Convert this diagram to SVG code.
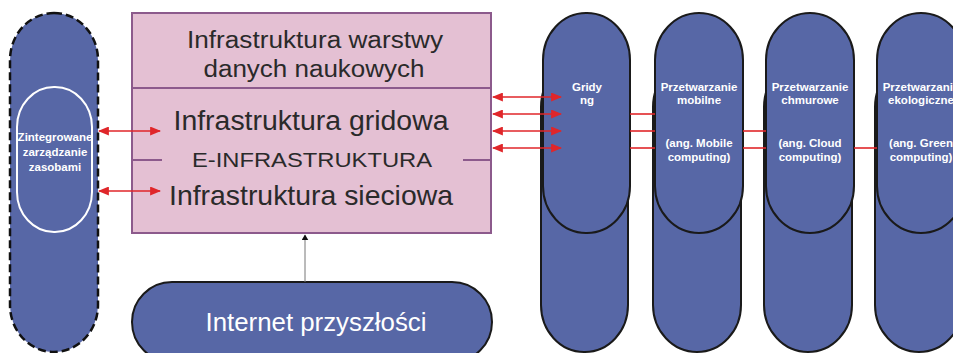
<svg xmlns="http://www.w3.org/2000/svg" width="953" height="353" viewBox="0 0 953 353">
<defs>
<style>
.pill{fill:#5767a6;stroke:#1a1a1a;stroke-width:2}
.wt{fill:#fff;font-family:"Liberation Sans",Arial,sans-serif;font-weight:bold;font-size:11.5px;text-anchor:middle}
.bt{fill:#2a2a2a;font-family:"Liberation Sans",Arial,sans-serif;text-anchor:middle}
.red{stroke:#e0262a;stroke-width:1.6;fill:none}
.redd{stroke:#e0262a;stroke-width:1.6;fill:none;marker-start:url(#ah);marker-end:url(#ah)}
</style>
<marker id="ah" viewBox="0 0 10 10" refX="9" refY="5" markerWidth="11" markerHeight="9" markerUnits="userSpaceOnUse" orient="auto-start-reverse" preserveAspectRatio="none">
<path d="M0,0 L10,5 L0,10 Z" fill="#e0262a"/>
</marker>
<marker id="bh" viewBox="0 0 10 10" refX="9" refY="5" markerWidth="6" markerHeight="7" markerUnits="userSpaceOnUse" orient="auto" preserveAspectRatio="none">
<path d="M0,0 L10,5 L0,10 Z" fill="#111"/>
</marker>
</defs>

<g id="zasoby">
<rect x="10" y="13" width="88" height="339" rx="44" ry="47" fill="#5767a6" stroke="#111" stroke-width="2.5" stroke-dasharray="8,4"/>
<rect x="17" y="87" width="75" height="145" rx="37" ry="40" fill="none" stroke="#fff" stroke-width="2"/>
<text class="wt" x="55" y="141">Zintegrowane</text>
<text class="wt" x="55" y="156">zarządzanie</text>
<text class="wt" x="55" y="171">zasobami</text>
</g>

<g id="einfra">
<rect x="132" y="13" width="359" height="220" fill="#e4c0d3" stroke="#8c5a8c" stroke-width="2"/>
<line x1="132" y1="88" x2="491" y2="88" stroke="#8c5a8c" stroke-width="2"/>
<line x1="132" y1="160" x2="162" y2="160" stroke="#8c5a8c" stroke-width="2"/>
<line x1="463" y1="160" x2="491" y2="160" stroke="#8c5a8c" stroke-width="2"/>
<text class="bt" x="315" y="48" font-size="23" textLength="256" lengthAdjust="spacingAndGlyphs">Infrastruktura warstwy</text>
<text class="bt" x="314" y="77" font-size="23" textLength="221" lengthAdjust="spacingAndGlyphs">danych naukowych</text>
<text class="bt" x="311" y="130" font-size="27" textLength="275" lengthAdjust="spacingAndGlyphs">Infrastruktura gridowa</text>
<text class="bt" x="312" y="167" font-size="20" textLength="240" lengthAdjust="spacingAndGlyphs">E-INFRASTRUKTURA</text>
<text class="bt" x="311" y="205" font-size="28" textLength="284" lengthAdjust="spacingAndGlyphs">Infrastruktura sieciowa</text>
</g>

<g id="internet">
<rect x="132" y="282" width="360" height="80" rx="40" ry="40" class="pill"/>
<text x="316" y="331" fill="#fff" font-family="Liberation Sans, Arial, sans-serif" font-size="25" text-anchor="middle" textLength="221" lengthAdjust="spacingAndGlyphs">Internet przyszłości</text>
</g>

<g id="gridy">
<rect x="541" y="60" width="87" height="292" rx="43" ry="47" class="pill"/>
<rect x="543" y="13" width="87" height="220" rx="43" ry="47" class="pill"/>
<text class="wt" x="587" y="91">Gridy</text>
<text class="wt" x="587" y="104">ng</text>
</g>

<g id="mobilne">
<rect x="653" y="60" width="88" height="292" rx="44" ry="47" class="pill"/>
<rect x="655" y="13" width="88" height="220" rx="44" ry="47" class="pill"/>
<text class="wt" x="699" y="91">Przetwarzanie</text>
<text class="wt" x="699" y="104">mobilne</text>
<text class="wt" x="699" y="147">(ang. Mobile</text>
<text class="wt" x="699" y="161">computing)</text>
</g>

<g id="chmurowe">
<rect x="764" y="60" width="88" height="292" rx="44" ry="47" class="pill"/>
<rect x="766" y="13" width="88" height="220" rx="44" ry="47" class="pill"/>
<text class="wt" x="810" y="91">Przetwarzanie</text>
<text class="wt" x="810" y="104">chmurowe</text>
<text class="wt" x="810" y="147">(ang. Cloud</text>
<text class="wt" x="810" y="161">computing)</text>
</g>

<g id="ekologiczne">
<rect x="875" y="60" width="88" height="292" rx="44" ry="47" class="pill"/>
<rect x="877" y="13" width="88" height="220" rx="44" ry="47" class="pill"/>
<text class="wt" x="921" y="91">Przetwarzanie</text>
<text class="wt" x="921" y="104">ekologiczne</text>
<text class="wt" x="921" y="147">(ang. Green</text>
<text class="wt" x="921" y="161">computing)</text>
</g>

<g id="connectors">
<line class="redd" x1="99" y1="131" x2="160" y2="131"/>
<line class="redd" x1="99" y1="191" x2="160" y2="191"/>
<line class="redd" x1="493" y1="97" x2="561" y2="97"/>
<line class="redd" x1="493" y1="114" x2="561" y2="114"/>
<line class="redd" x1="493" y1="131" x2="561" y2="131"/>
<line class="redd" x1="493" y1="148" x2="561" y2="148"/>
<line class="red" x1="630" y1="114" x2="655" y2="114"/>
<line class="red" x1="630" y1="131" x2="655" y2="131"/>
<line class="red" x1="630" y1="148" x2="655" y2="148"/>
<line class="red" x1="743" y1="131" x2="766" y2="131"/>
<line class="red" x1="743" y1="148" x2="766" y2="148"/>
<line class="red" x1="854" y1="148" x2="877" y2="148"/>
<line x1="305" y1="282" x2="305" y2="235" stroke="#777" stroke-width="1" marker-end="url(#bh)"/>
</g>
</svg>
